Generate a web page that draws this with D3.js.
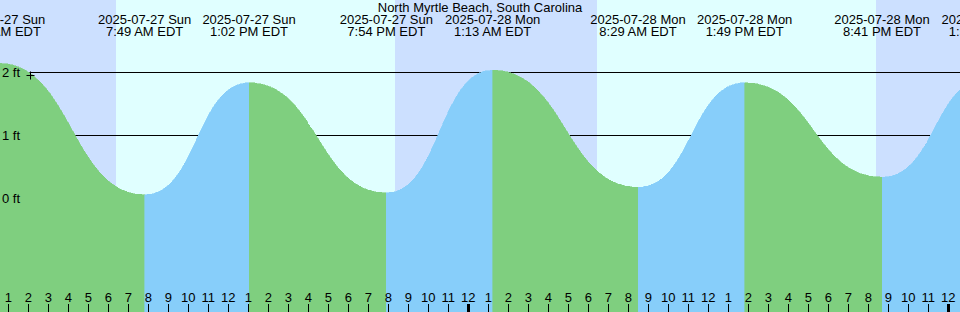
<!DOCTYPE html>
<html>
<head>
<meta charset="utf-8">
<script src="https://cdn.jsdelivr.net/npm/d3@7"></script>
<style>
  html, body { margin: 0; padding: 0; background: #fff; }
  svg { display: block; font-family: "Liberation Sans", Arial, sans-serif; }
</style>
</head>
<body>
<svg id="chart" width="960" height="312"></svg>
<script>
// 潮汐数据 (高低潮时间与高度, ft)
const title = "North Myrtle Beach, South Carolina";
const extremeTimes = ["2025-07-27 00:31", "2025-07-27 07:49", "2025-07-27 13:02", "2025-07-27 19:54",
  "2025-07-28 01:13", "2025-07-28 08:29", "2025-07-28 13:49", "2025-07-28 20:41", "2025-07-29 01:57"];
const extremeHeights = [2.14, 0.05, 1.83, 0.08, 2.03, 0.17, 1.83, 0.33, 1.9];
const sunriseTimes = ["2025-07-27 06:24", "2025-07-28 06:26"];
const sunsetTimes = ["2025-07-27 20:21", "2025-07-28 20:22"];
const axisFeet = [0, 1, 2];
const gridFeet = [1, 2];
const markerTime = "2025-07-27 02:06";
const markerHeight = 1.95;
const viewStart = "2025-07-27 00:35", viewEnd = "2025-07-29 00:35";

const W = 960, H = 312;
const parse = d3.timeParse("%Y-%m-%d %H:%M");
const fmtDate = d3.timeFormat("%Y-%m-%d %a");
const fmtTime = d3.timeFormat("%-I:%M %p EDT");
const fmtHour = d3.timeFormat("%-I");

const x = d3.scaleTime().domain([parse(viewStart), parse(viewEnd)]).range([0, W]);
const y = d3.scaleLinear().domain([0, 2]).range([198, 72]);

const svg = d3.select("#chart");
const colors = { night: "#cce0ff", day: "#e0ffff", fall: "#7fcf7f", rise: "#87cefa" };

// 背景: 白天 / 夜晚
const t0 = parse(viewStart), t1 = parse(viewEnd);
const rises = sunriseTimes.map(parse), sets = sunsetTimes.map(parse);
const nights = [[t0, rises[0]], [sets[0], rises[1]], [sets[1], t1]];
svg.append("rect").attr("width", W).attr("height", H).attr("fill", colors.day);
svg.append("g").selectAll("rect").data(nights).join("rect")
  .attr("x", d => x(d[0])).attr("y", 0)
  .attr("width", d => x(d[1]) - x(d[0])).attr("height", H)
  .attr("fill", colors.night).attr("shape-rendering", "crispEdges");

// 水平线
svg.append("g").selectAll("line").data(gridFeet).join("line")
  .attr("x1", 0).attr("x2", W)
  .attr("y1", d => Math.round(y(d)) + 0.5).attr("y2", d => Math.round(y(d)) + 0.5)
  .attr("stroke", "#000").attr("stroke-width", 1);

// 潮汐曲线 (涨潮蓝, 落潮绿)
const pts = extremeTimes.map((t, i) => ({ t: parse(t), h: extremeHeights[i] }));
const area = d3.area().curve(d3.curveBumpX)
  .x(d => x(d.t)).y0(H).y1(d => y(d.h));
const segs = d3.pairs(pts);
svg.append("g").selectAll("path").data(segs).join("path")
  .attr("d", d => area(d))
  .attr("fill", d => d[1].h < d[0].h ? colors.fall : colors.rise)
  .attr("stroke", d => d[1].h < d[0].h ? colors.fall : colors.rise)
  .attr("stroke-width", 0.6)
  .attr("shape-rendering", "crispEdges");

// y 轴标签
svg.append("g").selectAll("text").data(axisFeet).join("text")
  .attr("x", 2).attr("y", d => y(d) + 5)
  .attr("font-size", 13)
  .text(d => d + " ft");

// 当前时刻标记
const mx = Math.round(x(parse(markerTime))) + 0.5, my = Math.round(y(markerHeight)) + 0.5;
svg.append("path")
  .attr("d", `M${mx - 4},${my}H${mx + 4}M${mx},${my - 4}V${my + 4}`)
  .attr("stroke", "#000").attr("fill", "none");

// 小时刻度
const hours = x.ticks(d3.timeHour.every(1));
const ticks = svg.append("g");
ticks.selectAll("line").data(hours).join("line")
  .attr("x1", d => Math.round(x(d)) + 0.5).attr("x2", d => Math.round(x(d)) + 0.5)
  .attr("y1", 304).attr("y2", H)
  .attr("stroke", "#000")
  .attr("stroke-width", d => d.getHours() === 0 ? 3 : 1);
ticks.selectAll("text").data(hours).join("text")
  .attr("x", d => x(d)).attr("y", 302)
  .attr("text-anchor", "middle").attr("font-size", 13)
  .text(d => fmtHour(d));

// 高低潮时间标签
const labels = svg.append("g").attr("text-anchor", "middle").attr("font-size", 13);
pts.forEach(p => {
  labels.append("text").attr("x", x(p.t)).attr("y", 24).text(fmtDate(p.t));
  labels.append("text").attr("x", x(p.t)).attr("y", 36).text(fmtTime(p.t));
});

// 标题
svg.append("text").attr("x", W / 2).attr("y", 12)
  .attr("text-anchor", "middle").attr("font-size", 13)
  .text(title);
</script>
</body>
</html>
